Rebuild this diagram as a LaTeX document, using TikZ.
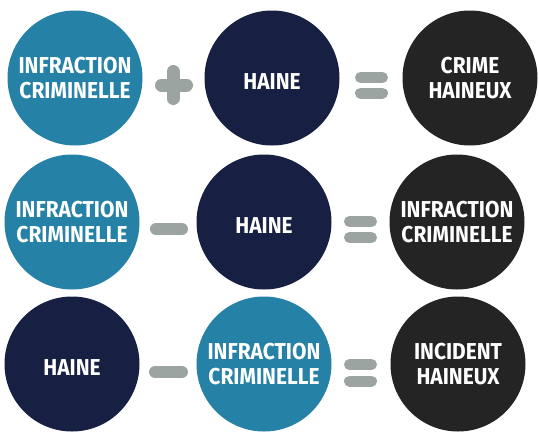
\documentclass[tikz,border=0pt]{standalone}
\usepackage{fontspec}
\setmainfont[FakeStretch=0.91]{Fira Sans}
\definecolor{cblue}{RGB}{37,129,165}
\definecolor{cnavy}{RGB}{23,31,66}
\definecolor{cdark}{RGB}{35,36,35}
\definecolor{cgray}{RGB}{156,164,162}
\begin{document}
\begin{tikzpicture}[x=1pt,y=-1pt,
  disc/.style={circle,minimum size=135pt,inner sep=0pt,text=white,align=center,
    font=\bfseries\fontsize{23}{25}\selectfont},
  infr/.style={disc,fill=cblue},
  hate/.style={disc,fill=cnavy},
  res/.style={disc,fill=cdark},
  word/.style={text=white,font=\bfseries\fontsize{23}{25}\selectfont,yshift=-4pt},
  bar/.style={draw=cgray,line width=12pt,line cap=round}]

\fill[white] (0,0) rectangle (539,432);
\useasboundingbox (0,0) rectangle (539,432);

% first row
\node[infr] (a1) at (75,78) {INFRACTION\\CRIMINELLE};
\node[hate] (a2) at (272,78) {};
\node[res] (a3) at (470,78) {CRIME\\HAINEUX};
\node[word] (a2t) at (a2) {HAINE};

% second row
\node[infr] (b1) at (72,222) {INFRACTION\\CRIMINELLE};
\node[hate] (b2) at (264,222) {};
\node[res] (b3) at (457,222) {INFRACTION\\CRIMINELLE};
\node[word] (b2t) at (b2) {HAINE};

% third row
\node[hate] (c1) at (72,364) {};
\node[infr] (c2) at (264,364) {INFRACTION\\CRIMINELLE};
\node[res] (c3) at (458,364) {INCIDENT\\HAINEUX};
\node[word] (c1t) at (c1) {HAINE};

% plus
\draw[bar,line width=13pt] (161.5,85) -- (186.5,85);
\draw[bar,line width=13pt] (173,71.5) -- (173,98.5);
% minus
\draw[bar] (156,229) -- (182,229);
\draw[bar] (155,372) -- (182,372);
% equals
\draw[bar,line width=11pt] (360.5,77.5) -- (382.5,77.5);
\draw[bar,line width=11pt] (360.5,93) -- (382.5,93);
\draw[bar,line width=11pt] (349.5,221.5) -- (371.5,221.5);
\draw[bar,line width=11pt] (349.5,237.5) -- (371.5,237.5);
\draw[bar,line width=11pt] (349.5,364.5) -- (371.5,364.5);
\draw[bar,line width=11pt] (349.5,381) -- (371.5,381);
\end{tikzpicture}
\end{document}
